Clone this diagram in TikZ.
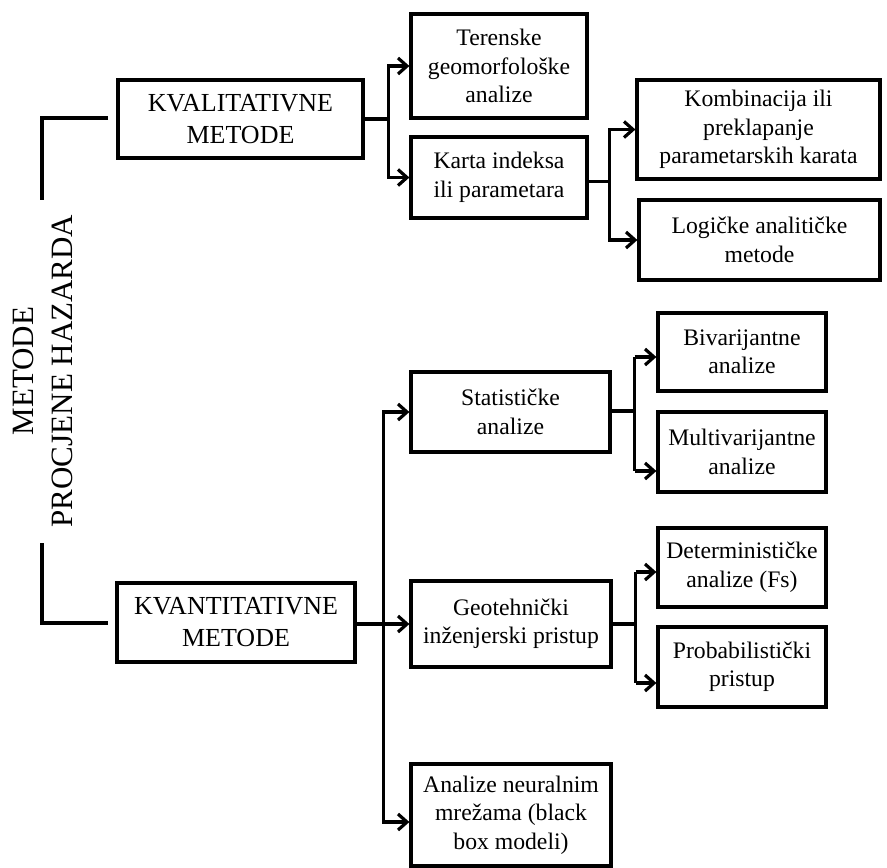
\documentclass[tikz,border=0pt]{standalone}
\usepackage{fontspec}
\setmainfont{Liberation Serif}
\usetikzlibrary{arrows.meta,calc}
\begin{document}
\begin{tikzpicture}[x=1pt,y=-1pt,
  box/.style={draw, line width=3.2pt, align=center, inner sep=0pt,
    font=\fontsize{23.7}{28.5}\selectfont},
  bigbox/.style={box, font=\fontsize{26}{32}\selectfont},
  conn/.style={line width=3.2pt},
  thickconn/.style={line width=4.2pt},
  arr/.style={conn, -{Straight Barb[length=9pt,width=16pt]}}]
\useasboundingbox (0,0) rectangle (887,868);

% title
\node[rotate=90, align=center, inner sep=0pt, font=\fontsize{31}{39}\selectfont]
  (title) at (42.5,371) {METODE\\PROCJENE HAZARDA};

% main boxes
\node[bigbox, minimum width=245pt, minimum height=78pt] (kval) at (240.5,119) {KVALITATIVNE\\METODE};
\node[bigbox, minimum width=238pt, minimum height=79pt] (kvant) at (236,622.5) {KVANTITATIVNE\\METODE};

% qualitative branch
\node[box, minimum width=176pt, minimum height=104pt] (teren) at (499,66) {Terenske\\geomorfološke\\analize};
\node[box, minimum width=176pt, minimum height=81pt] (karta) at (499,177.5) {Karta indeksa\\ili parametara};
\node[box, minimum width=243pt, minimum height=99pt] (komb) at (758.5,129.5) {Kombinacija ili\\preklapanje\\parametarskih karata};
\node[box, minimum width=241pt, minimum height=80pt] (log) at (759.5,240) {Logičke analitičke\\metode};

% quantitative branch
\node[box, minimum width=199pt, minimum height=80pt] (stat) at (510.5,412) {Statističke\\analize};
\node[box, minimum width=168pt, minimum height=78pt] (biv) at (742,352) {Bivarijantne\\analize};
\node[box, minimum width=168pt, minimum height=80pt] (multi) at (742,452) {Multivarijantne\\analize};
\node[box, minimum width=200pt, minimum height=86pt] (geo) at (511,624) {Geotehnički\\inženjerski pristup};
\node[box, minimum width=168pt, minimum height=79pt] (det) at (742,567.5) {Determinističke\\analize (Fs)};
\node[box, minimum width=168pt, minimum height=80pt] (prob) at (742,667) {Probabilistički\\pristup};
\node[box, minimum width=200pt, minimum height=102pt] (neur) at (511,815) {Analize neuralnim\\mrežama (black\\box modeli)};

% bracket around title
\coordinate (bA) at (108,118);
\coordinate (bB) at (42,200);
\coordinate (bC) at (42,543);
\coordinate (bD) at (108,623);
\draw[conn] (bA) -| (bB);
\draw[conn] (bC) |- (bD);

% qualitative connectors
\coordinate (j1) at ($(kval.east)+(24,0)$);
\draw[conn] (kval.east) -- (j1);
\draw[arr] (j1) |- (teren.west);
\draw[arr] (j1) |- (karta.west);

\coordinate (j2) at ($(karta.east)+(21,4)$);
\draw[conn] (karta.east |- j2) -- (j2);
\draw[arr] (j2) |- (komb.west);
\draw[arr] (j2) |- (log.west);

% quantitative connectors
\coordinate (j3) at ($(kvant.east)+(27,1.5)$);
\draw[thickconn] (kvant.east |- j3) -- (j3);
\draw[arr] (j3) -- (geo.west |- j3);
\draw[arr] (j3) |- (stat.west);
\draw[arr] (j3) |- ($(neur.west)+(0,7)$);

\coordinate (j4) at ($(stat.east)+(23,-1)$);
\draw[conn] (stat.east |- j4) -- (j4);
\draw[arr] ($(j4)+(0,-54)$) -- (biv.west |- {$(j4)+(0,-54)$});
\draw[arr] ($(j4)+(0,60)$) -- (multi.west |- {$(j4)+(0,60)$});
\draw[conn] ($(j4)+(0,-54)$) -- ($(j4)+(0,60)$);

\coordinate (j5) at ($(geo.east)+(23,0)$);
\draw[conn] (geo.east) -- (j5);
\draw[arr] ($(j5)+(0,-52)$) -- (det.west |- {$(j5)+(0,-52)$});
\draw[arr] ($(j5)+(0,59)$) -- (prob.west |- {$(j5)+(0,59)$});
\draw[conn] ($(j5)+(0,-52)$) -- ($(j5)+(0,59)$);
\end{tikzpicture}
\end{document}
